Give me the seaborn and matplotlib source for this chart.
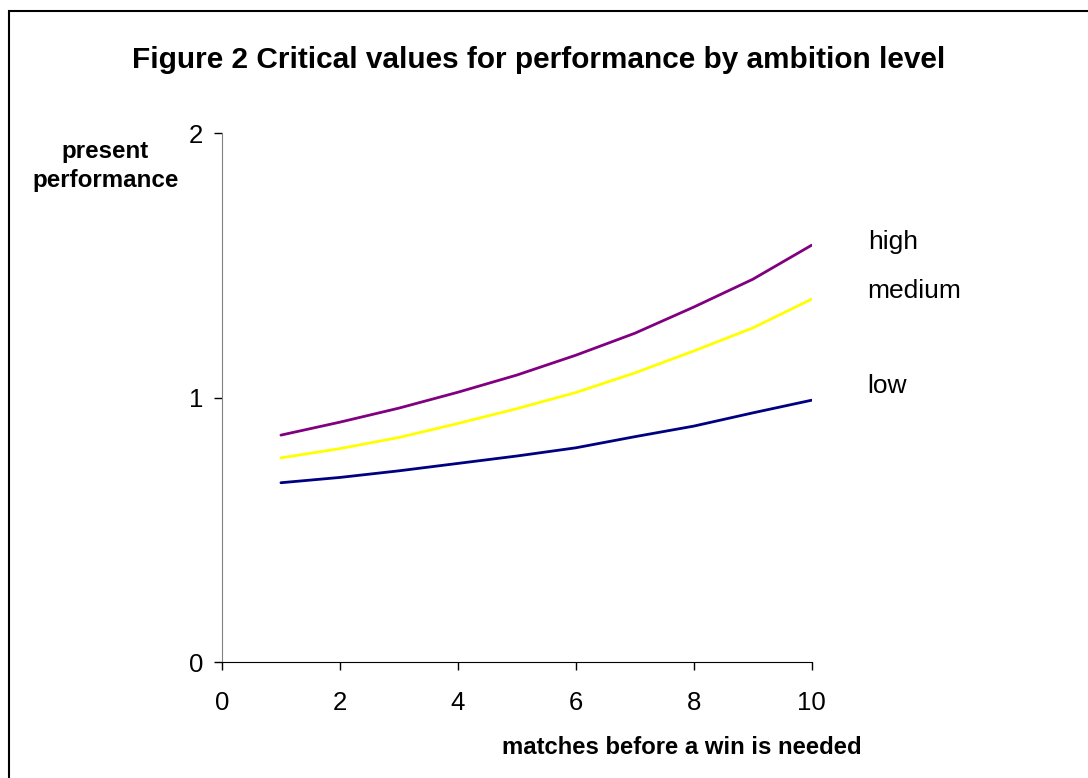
import numpy as np
import pandas as pd
import matplotlib
matplotlib.use("Agg")
import matplotlib.pyplot as plt
import seaborn as sns
from matplotlib.patches import Rectangle

# ==========================
# DATA
# ==========================

matches = [1, 2, 3, 4, 5, 6, 7, 8, 9, 10]
high = [0.858, 0.907, 0.960, 1.020, 1.085, 1.160, 1.243, 1.342, 1.447, 1.576]
medium = [0.772, 0.807, 0.849, 0.902, 0.958, 1.019, 1.093, 1.176, 1.263, 1.372]
low = [0.678, 0.698, 0.723, 0.751, 0.779, 0.810, 0.852, 0.892, 0.942, 0.990]

levels = ["high", "medium", "low"]
colors = {"high": "#800080", "medium": "#FFFF00", "low": "#000080"}

df = pd.DataFrame({
    "matches": matches * 3,
    "value": high + medium + low,
    "level": ["high"] * 10 + ["medium"] * 10 + ["low"] * 10,
})

# ==========================
# PLOT
# ==========================

sns.set_style("white")
plt.rcParams["font.family"] = ["Liberation Sans", "DejaVu Sans"]
plt.rcParams["text.color"] = "black"

fig = plt.figure(figsize=(10.88, 7.78), dpi=100)
ax = fig.add_axes([0.204, 0.149, 0.542, 0.680])

sns.lineplot(data=df, x="matches", y="value", hue="level",
             palette=colors, linewidth=2, legend=False, ax=ax)

ax.set_xlim(0, 10)
ax.set_ylim(0, 2)
ax.set_xticks([0, 2, 4, 6, 8, 10])
ax.set_yticks([0, 1, 2])
ax.tick_params(axis="both", direction="out", length=5.5, width=1,
               labelsize=18.5, colors="black", left=True, bottom=True)
ax.tick_params(axis="x", pad=15.4)
ax.tick_params(axis="y", pad=7.9)
ax.spines["top"].set_visible(False)
ax.spines["right"].set_visible(False)
ax.spines["left"].set_color("#808080")
ax.spines["bottom"].set_color("black")
ax.set_xlabel("")
ax.set_ylabel("")

# series labels to the right of the lines
label_y = {"high": 1.587, "medium": 1.402, "low": 1.043}
for lev in levels:
    ax.text(10.95, label_y[lev], lev, fontsize=19, va="center", ha="left")

fig.text(0.495, 0.923, "Figure 2 Critical values for performance by ambition level",
         fontsize=21.4, fontweight="bold", ha="center", va="center")
fig.text(0.097, 0.787, "present\nperformance", fontsize=17.4,
         fontweight="bold", ha="center", va="center", linespacing=1.32)
fig.text(0.627, 0.039, "matches before a win is needed", fontsize=17.2,
         fontweight="bold", ha="center", va="center")

# outer chart frame (right and bottom edges fall outside the image)
fig.patches.append(Rectangle((8.5 / 1088, -0.05), 1.2, 1 - 10.5 / 778 + 0.05,
                             transform=fig.transFigure, fill=False,
                             edgecolor="black", linewidth=1.5))

plt.savefig("out.png", dpi=100)
plt.close()
